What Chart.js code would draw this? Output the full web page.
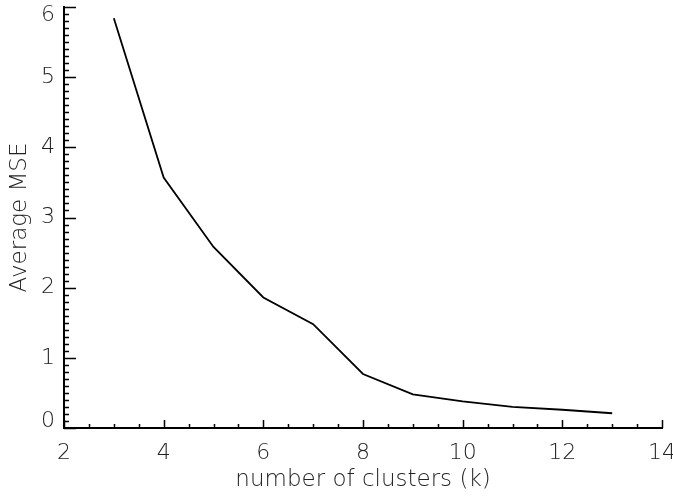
<!DOCTYPE html>
<html>
<head>
<meta charset="utf-8">
<script src="https://cdn.jsdelivr.net/npm/chart.js@4/dist/chart.umd.min.js"></script>
<style>
  html, body { margin: 0; padding: 0; background: #fff; }
  #wrap { width: 673px; height: 497px; }
</style>
</head>
<body>
<div id="wrap"><canvas id="mse-chart"></canvas></div>
<script>
// elbow curve: average MSE vs number of clusters
const clusters = [3, 4, 5, 6, 7, 8, 9, 10, 11, 12, 13];
const avgMse   = [5.84, 3.57, 2.58, 1.86, 1.48, 0.77, 0.48, 0.38, 0.30, 0.26, 0.21];

const xRange = [2, 14];
const yRange = [0, 6];
const xMajorStep = 2,   xMinorStep = 0.5;
const yMajorStep = 1,   yMinorStep = 0.1;

const fontFamily = "'DejaVu Sans ExtraLight', 'DejaVu Sans', sans-serif";
const textColor = '#222';

// IDL-style inward tick marks (major + minor) and y labels nudged inside the axis ends
const idlAxes = {
    id: 'idlAxes',
    afterDraw(chart) {
        const ctx = chart.ctx;
        const xs = chart.scales.x, ys = chart.scales.y;
        const area = chart.chartArea;
        ctx.save();
        ctx.strokeStyle = '#000';
        ctx.lineWidth = 1.5;
        ctx.beginPath();
        const nx = Math.round((xRange[1] - xRange[0]) / xMinorStep);
        for (let i = 0; i <= nx; i++) {
            const v = xRange[0] + i * xMinorStep;
            const px = Math.round(xs.getPixelForValue(v)) + 0.5;
            const major = Math.abs(v / xMajorStep - Math.round(v / xMajorStep)) < 1e-6;
            const len = major ? 8 : 4;
            ctx.moveTo(px, area.bottom);
            ctx.lineTo(px, area.bottom - len);
        }
        const ny = Math.round((yRange[1] - yRange[0]) / yMinorStep);
        for (let i = 0; i <= ny; i++) {
            const v = yRange[0] + i * yMinorStep;
            const py = Math.round(ys.getPixelForValue(v)) + 0.5;
            const major = Math.abs(v / yMajorStep - Math.round(v / yMajorStep)) < 1e-6;
            const len = major ? 12 : 5;
            ctx.moveTo(area.left, py);
            ctx.lineTo(area.left + len, py);
        }
        ctx.stroke();

        // y tick labels
        ctx.fillStyle = textColor;
        ctx.font = '200 22px ' + fontFamily;
        ctx.textAlign = 'right';
        ctx.textBaseline = 'middle';
        ys.ticks.forEach(t => {
            let py = ys.getPixelForValue(t.value);
            if (t.value === yRange[1]) py += 8;
            if (t.value === yRange[0]) py -= 7;
            ctx.fillText(String(t.value), area.left - 9, py);
        });
        ctx.restore();
    }
};

Chart.defaults.font.family = fontFamily;
Chart.defaults.font.weight = 200;
Chart.defaults.color = textColor;

new Chart(document.getElementById('mse-chart'), {
    type: 'line',
    data: {
        datasets: [{
            data: clusters.map((k, i) => ({ x: k, y: avgMse[i] })),
            borderColor: '#000',
            borderWidth: 1.8,
            pointRadius: 0,
            tension: 0,
            fill: false
        }]
    },
    options: {
        responsive: true,
        maintainAspectRatio: false,
        animation: false,
        layout: { padding: { top: 7, right: 11, left: 0, bottom: 0 } },
        plugins: { legend: { display: false }, tooltip: { enabled: false } },
        scales: {
            x: {
                type: 'linear',
                min: xRange[0], max: xRange[1],
                grid: { display: false, drawTicks: false },
                border: { display: true, color: '#000', width: 2 },
                ticks: { stepSize: xMajorStep, padding: 12, font: { size: 22, weight: 200 } },
                title: { display: true, text: 'number of clusters (k)', font: { size: 23, weight: 200 }, padding: { top: 0, bottom: 3 } },
                afterFit(scale) {
                    scale.height = 69;
                    scale.paddingLeft = 0;
                    scale.paddingRight = 0;
                }
            },
            y: {
                min: yRange[0], max: yRange[1],
                grid: { display: false, drawTicks: false },
                border: { display: true, color: '#000', width: 2 },
                ticks: { stepSize: yMajorStep, padding: 9, font: { size: 22, weight: 200 }, color: 'rgba(0,0,0,0)' },
                title: { display: true, text: 'Average MSE', font: { size: 23, weight: 200 }, padding: { top: 6, bottom: 0 } },
                afterFit(scale) {
                    scale.width = 64;
                    scale.paddingTop = 0;
                    scale.paddingBottom = 0;
                }
            }
        }
    },
    plugins: [idlAxes]
});
</script>
</body>
</html>
